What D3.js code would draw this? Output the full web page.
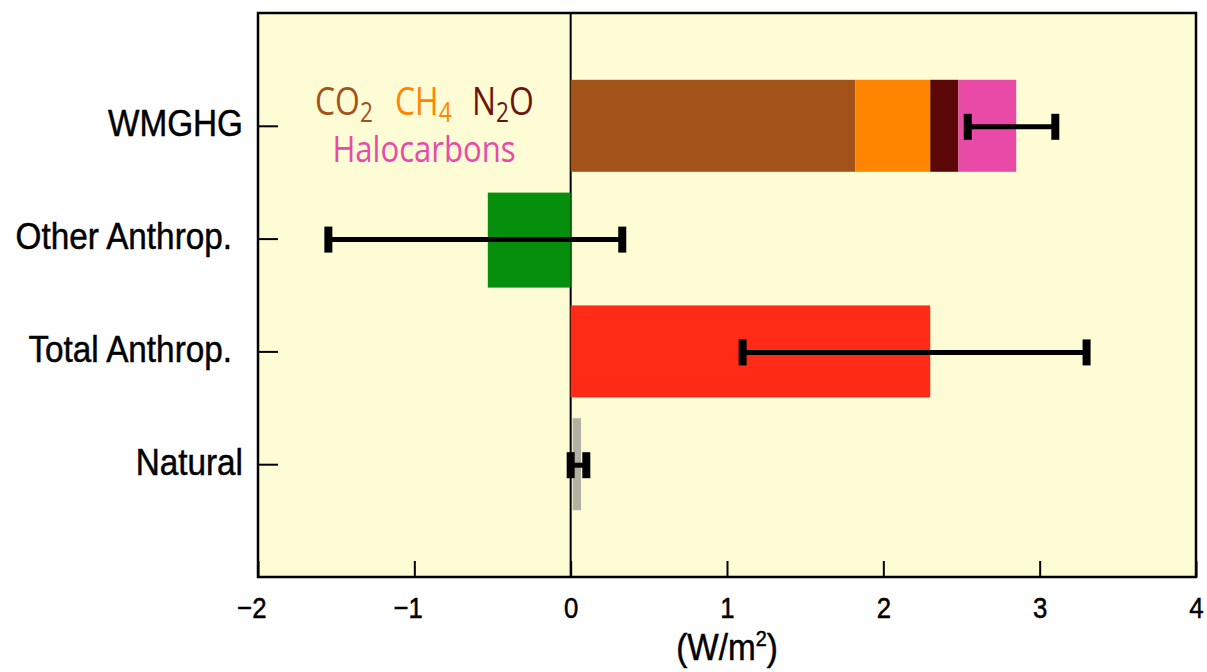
<!DOCTYPE html>
<html>
<head>
<meta charset="utf-8">
<script src="https://cdn.jsdelivr.net/npm/d3@7"></script>
<style>
  body { margin: 0; background: #fff; }
  text { font-family: "Liberation Sans", Arial, sans-serif; }
</style>
</head>
<body>
<svg id="chart" width="1207" height="672"></svg>
<script>
// categories, top to bottom
var categories = ["WMGHG", "Other Anthrop.", "Total Anthrop.", "Natural"];

// WMGHG stacked pieces (W/m2)
var gasNames  = ["CO2", "CH4", "N2O", "Halocarbons"];
var gasValues = [1.82, 0.48, 0.18, 0.37];
var gasColors = ["#a3521a", "#ff8500", "#5c0808", "#e94aa8"];

// single bars
var barCats   = ["Other Anthrop.", "Total Anthrop.", "Natural"];
var barValues = [-0.53, 2.30, 0.06];
var barColors = ["#068f0c", "#ff2b17", "#b3b0a4"];

// uncertainty ranges
var errCats = ["WMGHG", "Other Anthrop.", "Total Anthrop.", "Natural"];
var errLow  = [2.54, -1.55, 1.10, 0.00];
var errHigh = [3.10, 0.33, 3.30, 0.10];

var xTicks = [-2, -1, 0, 1, 2, 3, 4];

var svg = d3.select("#chart");
var pLeft = 258, pRight = 1196, pTop = 13, pBottom = 577;
var squeeze = 0.9; // condensed look for the labels

var x = d3.scaleLinear().domain([-2, 4]).range([pLeft, pRight]);
var y = d3.scalePoint().domain(categories).range([pTop, pBottom]).padding(1);
var barH = 92;

// panel background
svg.append("rect")
    .attr("x", pLeft).attr("y", pTop)
    .attr("width", pRight - pLeft).attr("height", pBottom - pTop)
    .attr("fill", "#fefcd4");

// zero line
svg.append("line")
    .attr("x1", x(0)).attr("x2", x(0))
    .attr("y1", pTop).attr("y2", pBottom)
    .attr("stroke", "#000").attr("stroke-width", 2);

// stacked WMGHG
var stack = [];
var acc = 0;
gasValues.forEach(function(v, i) {
    stack.push({ name: gasNames[i], x0: acc, x1: acc + v, color: gasColors[i] });
    acc += v;
});
svg.selectAll("rect.gas")
    .data(stack)
    .enter().append("rect")
    .attr("class", "gas")
    .attr("x", d => x(d.x0))
    .attr("width", d => x(d.x1) - x(d.x0))
    .attr("y", y("WMGHG") - barH / 2)
    .attr("height", barH)
    .attr("fill", d => d.color);

// other bars
var bars = barCats.map((c, i) => ({ cat: c, v: barValues[i], color: barColors[i] }));
svg.selectAll("rect.bar")
    .data(bars)
    .enter().append("rect")
    .attr("class", "bar")
    .attr("x", d => d.cat == "Natural" ? x(0) + 2 : x(Math.min(0, d.v)))
    .attr("width", d => d.cat == "Natural" ? x(d.v) - x(0) - 1 : Math.abs(x(d.v) - x(0)))
    .attr("y", d => y(d.cat) - barH / 2)
    .attr("height", d => d.cat == "Other Anthrop." ? 95 : barH)
    .attr("fill", d => d.color);

// error bars
var errs = errCats.map((c, i) => ({ cat: c, lo: errLow[i], hi: errHigh[i] }));
var eg = svg.selectAll("g.err")
    .data(errs)
    .enter().append("g")
    .attr("class", "err");
eg.append("line")
    .attr("x1", d => x(d.lo)).attr("x2", d => x(d.hi))
    .attr("y1", d => y(d.cat) + 1).attr("y2", d => y(d.cat) + 1)
    .attr("stroke", "#000").attr("stroke-width", 5);
eg.selectAll("rect.cap")
    .data(d => [{ v: d.lo, cat: d.cat }, { v: d.hi, cat: d.cat }])
    .enter().append("rect")
    .attr("class", "cap")
    .attr("x", d => x(d.v) - 4)
    .attr("width", 8)
    .attr("y", d => y(d.cat) + 1 - 13)
    .attr("height", 26)
    .attr("fill", "#000");

// x axis ticks (inward), digit centred on the tick, minus hanging left
var xAxis = d3.axisBottom(x).tickValues(xTicks)
    .tickSize(-16)
    .tickFormat(d => d < 0 ? "\u2212" + Math.abs(d) : d);
var gx = svg.append("g")
    .attr("transform", "translate(0," + pBottom + ")")
    .call(xAxis);
gx.select(".domain").remove();
gx.selectAll(".tick line").attr("stroke", "#000").attr("stroke-width", 2);
gx.selectAll(".tick text")
    .attr("y", null).attr("dy", null)
    .attr("text-anchor", d => d < 0 ? "end" : "middle")
    .attr("transform", d => "translate(" + (d < 0 ? 8 : 0) + ",41) scale(0.86,1)")
    .attr("font-size", 30).attr("fill", "#000")
    .attr("stroke", "#000").attr("stroke-width", 0.5)
    .attr("font-family", "Liberation Sans, Arial, sans-serif");

// y axis ticks (inward)
var yAxis = d3.axisLeft(y).tickSize(-20);
var gy = svg.append("g")
    .attr("transform", "translate(" + pLeft + ",0)")
    .call(yAxis);
gy.select(".domain").remove();
gy.selectAll(".tick line").attr("stroke", "#000").attr("stroke-width", 2);
gy.selectAll(".tick text")
    .attr("x", null).attr("dy", null)
    .attr("transform", d => "translate(" + (d.slice(-1) == "." ? -26 : -15) + ",10) scale(" + squeeze + ",1)")
    .attr("font-size", 37).attr("fill", "#000")
    .attr("stroke", "#000").attr("stroke-width", 0.5)
    .attr("font-family", "Liberation Sans, Arial, sans-serif");

// frame
svg.append("rect")
    .attr("x", pLeft).attr("y", pTop)
    .attr("width", pRight - pLeft).attr("height", pBottom - pTop)
    .attr("fill", "none").attr("stroke", "#000").attr("stroke-width", 2.5);

// axis title
var xt = svg.append("text")
    .attr("transform", "translate(" + x(1) + ",660) scale(0.9,1)")
    .attr("text-anchor", "middle")
    .attr("font-size", 37).attr("fill", "#000")
    .attr("stroke", "#000").attr("stroke-width", 0.5);
xt.append("tspan").text("(W/m");
xt.append("tspan").attr("font-size", 22).attr("dy", -14).text("2");
xt.append("tspan").attr("dy", 14).text(")");

// gas legend
var legFont = "'Open Sans', sans-serif";
function formula(px, base, sub, after, color) {
    var t = svg.append("text")
        .attr("transform", "translate(" + px + ",115) scale(0.84,1)")
        .attr("font-size", 38)
        .style("font-family", legFont);
    t.append("tspan").attr("fill", color).text(base);
    t.append("tspan").attr("fill", color).attr("font-size", 27).attr("dy", 7).text(sub);
    if (after) t.append("tspan").attr("fill", color).attr("dy", -7).text(after);
}
formula(315, "CO", "2", "", gasColors[0]);
formula(395, "CH", "4", "", gasColors[1]);
formula(472, "N", "2", "O", "#6b1410");

svg.append("text")
    .attr("transform", "translate(424,162) scale(0.84,1)")
    .attr("text-anchor", "middle")
    .attr("font-size", 37)
    .attr("fill", gasColors[3])
    .style("font-family", legFont)
    .text("Halocarbons");
</script>
</body>
</html>
